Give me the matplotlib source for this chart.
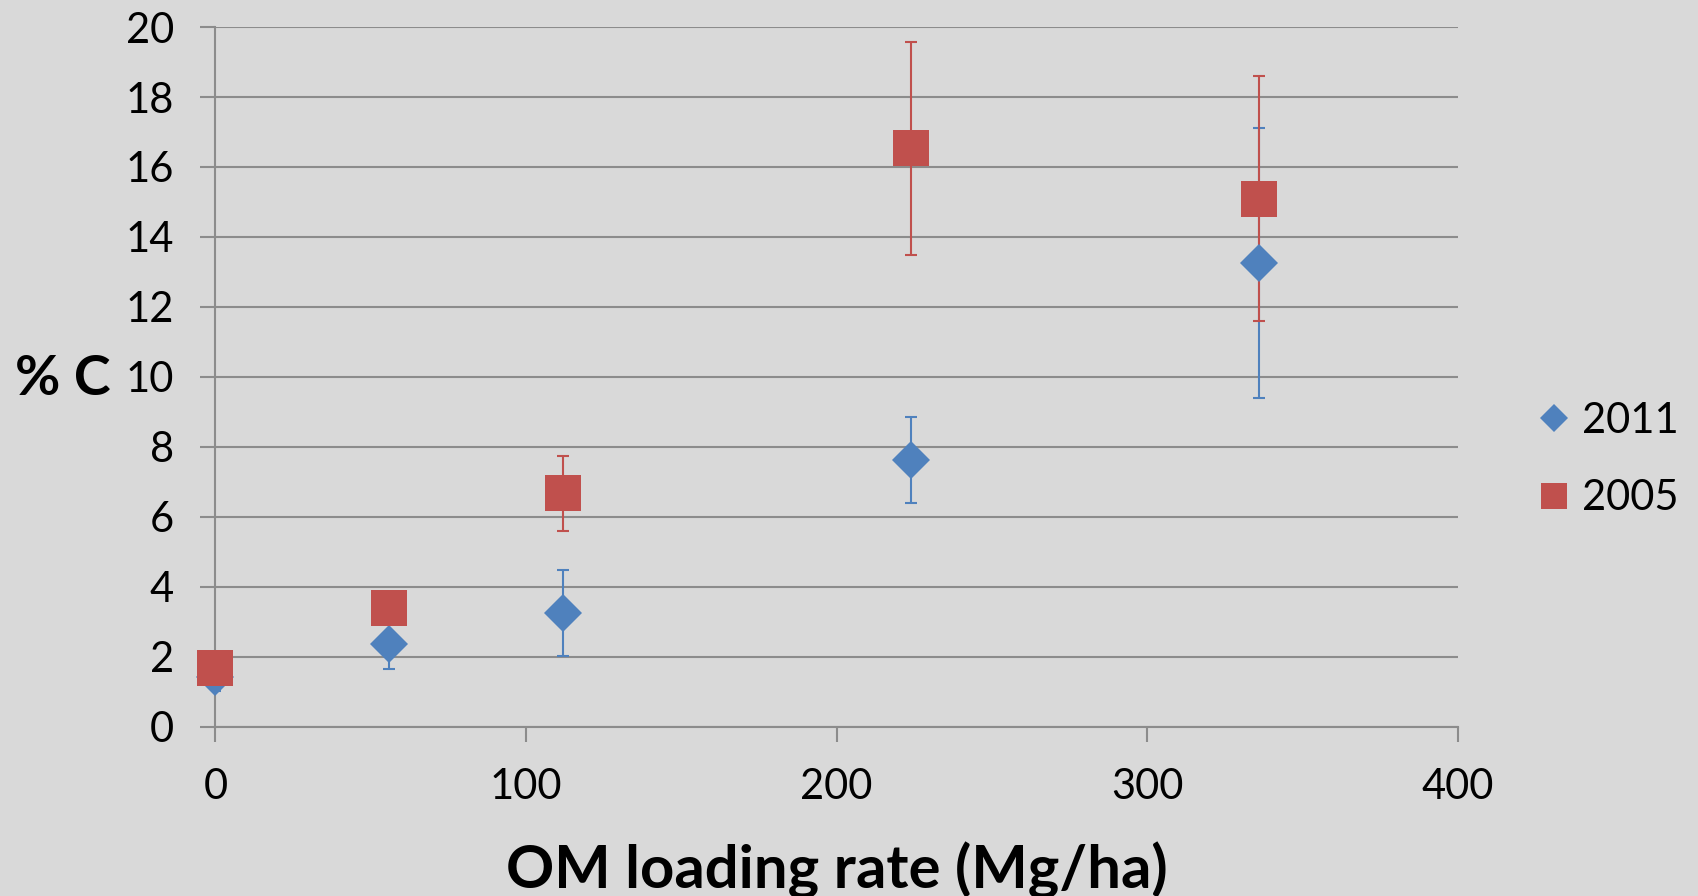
import matplotlib
matplotlib.use("Agg")
from matplotlib import pyplot as plt

# Datos
carga = [0, 56, 112, 224, 336]
c_2011 = [1.42, 2.35, 3.26, 7.62, 13.25]
err_2011 = [0.4, 0.71, 1.23, 1.24, 3.86]
c_2005 = [1.68, 3.38, 6.67, 16.53, 15.09]
err_2005 = [0.3, 0.4, 1.08, 3.05, 3.5]

azul = '#4F81BD'
rojo = '#C0504D'
fondo = '#D9D9D9'
gris = '#8C8C8C'

plt.rcParams['font.family'] = ['Lato', 'DejaVu Sans']

fig = plt.figure(figsize=(16.98, 8.96), dpi=100, facecolor=fondo)
ax = fig.add_axes([0.1269, 0.1891, 0.7315, 0.7807], facecolor=fondo)

# barras de error primero, marcadores encima
ax.errorbar(carga, c_2011, yerr=err_2011, fmt='none', ecolor=azul,
            elinewidth=1.5, capsize=4.3, capthick=1.5, zorder=3)
ax.errorbar(carga, c_2005, yerr=err_2005, fmt='none', ecolor=rojo,
            elinewidth=1.5, capsize=4.3, capthick=1.5, zorder=3)
ax.plot(carga, c_2011, linestyle='none', marker='D', markersize=19.5,
        color=azul, markeredgewidth=0, label='2011', zorder=4, clip_on=False)
ax.plot(carga, c_2005, linestyle='none', marker='s', markersize=25.5,
        color=rojo, markeredgewidth=0, label='2005', zorder=5, clip_on=False)

ax.set_xlim(0, 400)
ax.set_ylim(0, 20)
ax.set_xticks([0, 100, 200, 300, 400])
ax.set_yticks(range(0, 21, 2))

ax.yaxis.grid(True, color=gris, linewidth=1.5)
ax.set_axisbelow(True)
for s in ['top', 'right']:
    ax.spines[s].set_visible(False)
for s in ['left', 'bottom']:
    ax.spines[s].set_color(gris)
    ax.spines[s].set_linewidth(1.5)

ax.tick_params(axis='both', direction='out', length=11, width=1.5,
               color=gris, labelsize=30, pad=19)

ax.set_xlabel('OM loading rate (Mg/ha)', fontsize=43, fontweight='bold',
              labelpad=25)
fig.text(0.037, 0.577, '% C', fontsize=40, fontweight='bold',
         ha='center', va='center')

leg = fig.legend(loc='center left', bbox_to_anchor=(0.886, 0.487), frameon=False,
                 fontsize=30, markerscale=0.72, handlelength=0.6,
                 handletextpad=0.35, labelspacing=0.95)

fig.savefig('out.png', dpi=100, facecolor=fondo)
